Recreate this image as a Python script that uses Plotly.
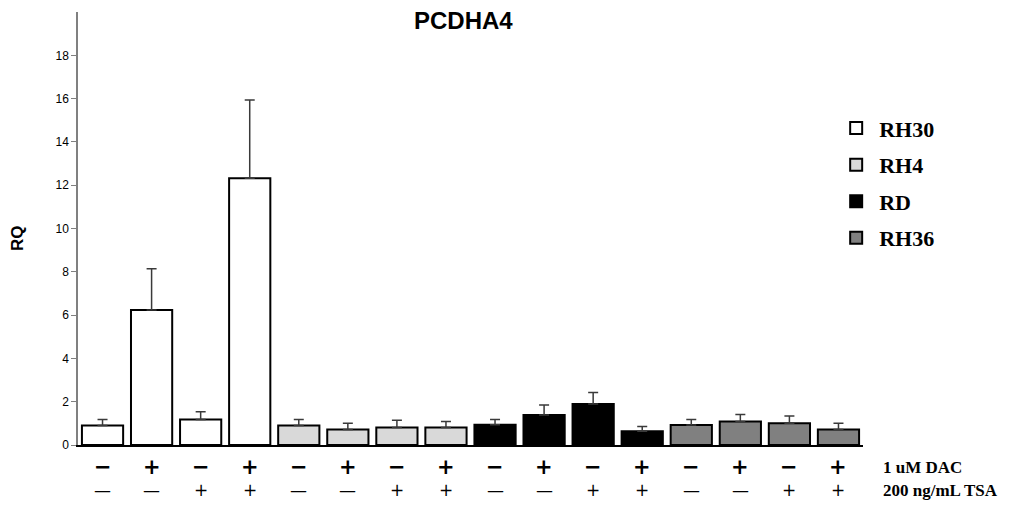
import plotly.graph_objects as go

categories = [f"c{i}" for i in range(1, 17)]
dac = ["−", "+", "−", "+"] * 4
tsa = ["—", "—", "+", "+"] * 4

series_names = ["RH30", "RH4", "RD", "RH36"]
series_colors = ["#ffffff", "#d9d9d9", "#000000", "#808080"]
rh30 = [0.90, 6.24, 1.18, 12.32]
rh30_err = [0.28, 1.90, 0.36, 3.62]
rh4 = [0.90, 0.72, 0.81, 0.81]
rh4_err = [0.28, 0.28, 0.33, 0.27]
rd = [0.94, 1.38, 1.89, 0.63]
rd_err = [0.24, 0.47, 0.54, 0.23]
rh36 = [0.92, 1.09, 1.00, 0.72]
rh36_err = [0.26, 0.32, 0.34, 0.28]

values = [rh30, rh4, rd, rh36]
errors = [rh30_err, rh4_err, rd_err, rh36_err]

fig = go.Figure()
for i, name in enumerate(series_names):
    fig.add_trace(go.Bar(
        x=categories[i * 4:(i + 1) * 4],
        y=values[i],
        name=f"<b>{name}</b>",
        legendgroup=name,
        marker=dict(color=series_colors[i], line=dict(color="#000000", width=2)),
        error_y=dict(type="data", array=errors[i], arrayminus=[0] * 4, symmetric=False,
                     color="#3a3a3a", thickness=1.5, width=5),
    ))

annotations = [
    dict(text="<b>PCDHA4</b>", xref="paper", yref="paper", x=0.491, y=1.0,
         xanchor="center", yanchor="middle", yshift=-8, showarrow=False,
         font=dict(family="Liberation Sans", size=24)),
    dict(text="<b>RQ</b>", xref="paper", yref="paper", x=0, y=0.478,
         xanchor="center", yanchor="middle", xshift=-61, showarrow=False, textangle=-90,
         font=dict(family="Liberation Sans", size=17)),
    dict(text="<b>1 uM DAC</b>", xref="paper", yref="paper", x=1.0, y=0,
         xanchor="left", yanchor="middle", xshift=18, yshift=-22, showarrow=False,
         font=dict(family="Liberation Serif", size=17)),
    dict(text="<b>200 ng/mL TSA</b>", xref="paper", yref="paper", x=1.0, y=0,
         xanchor="left", yanchor="middle", xshift=18, yshift=-45, showarrow=False,
         font=dict(family="Liberation Serif", size=17)),
]
for c, d, t in zip(categories, dac, tsa):
    annotations.append(dict(text=f"<b>{d}</b>", xref="x", yref="paper", x=c, y=0,
                            xanchor="center", yanchor="middle", yshift=-22, showarrow=False,
                            font=dict(family="DejaVu Sans", size=21, color="#000000")))
    annotations.append(dict(text=t, xref="x", yref="paper", x=c, y=0,
                            xanchor="center", yanchor="middle", yshift=-45, showarrow=False,
                            font=dict(family="DejaVu Sans", size=17, color="#000000")))

fig.update_layout(
    width=1028, height=505,
    margin=dict(l=78, r=165, t=12, b=60, autoexpand=False),
    paper_bgcolor="white", plot_bgcolor="white",
    barmode="overlay", bargap=0.16,
    font=dict(family="Liberation Sans", color="#000000"),
    showlegend=True,
    legend=dict(x=0.962, y=0.78, xanchor="left", yanchor="top",
                font=dict(family="Liberation Serif", size=22, color="#000000"),
                tracegroupgap=5, bgcolor="rgba(0,0,0,0)",
                itemwidth=36),
    xaxis=dict(
        type="category", categoryorder="array", categoryarray=categories,
        showticklabels=False, automargin=False,
        showline=True, linecolor="#000000", linewidth=1.5,
        ticks="", showgrid=False, zeroline=False,
    ),
    yaxis=dict(
        range=[0, 20], tickvals=[0, 2, 4, 6, 8, 10, 12, 14, 16, 18], automargin=False,
        tickfont=dict(family="Liberation Sans", size=12, color="#000000"),
        showline=True, linecolor="#808080", linewidth=1.5,
        ticks="outside", ticklen=5, tickcolor="#808080",
        showgrid=False, zeroline=False,
    ),
    annotations=annotations,
)

fig.write_html("out.html")
